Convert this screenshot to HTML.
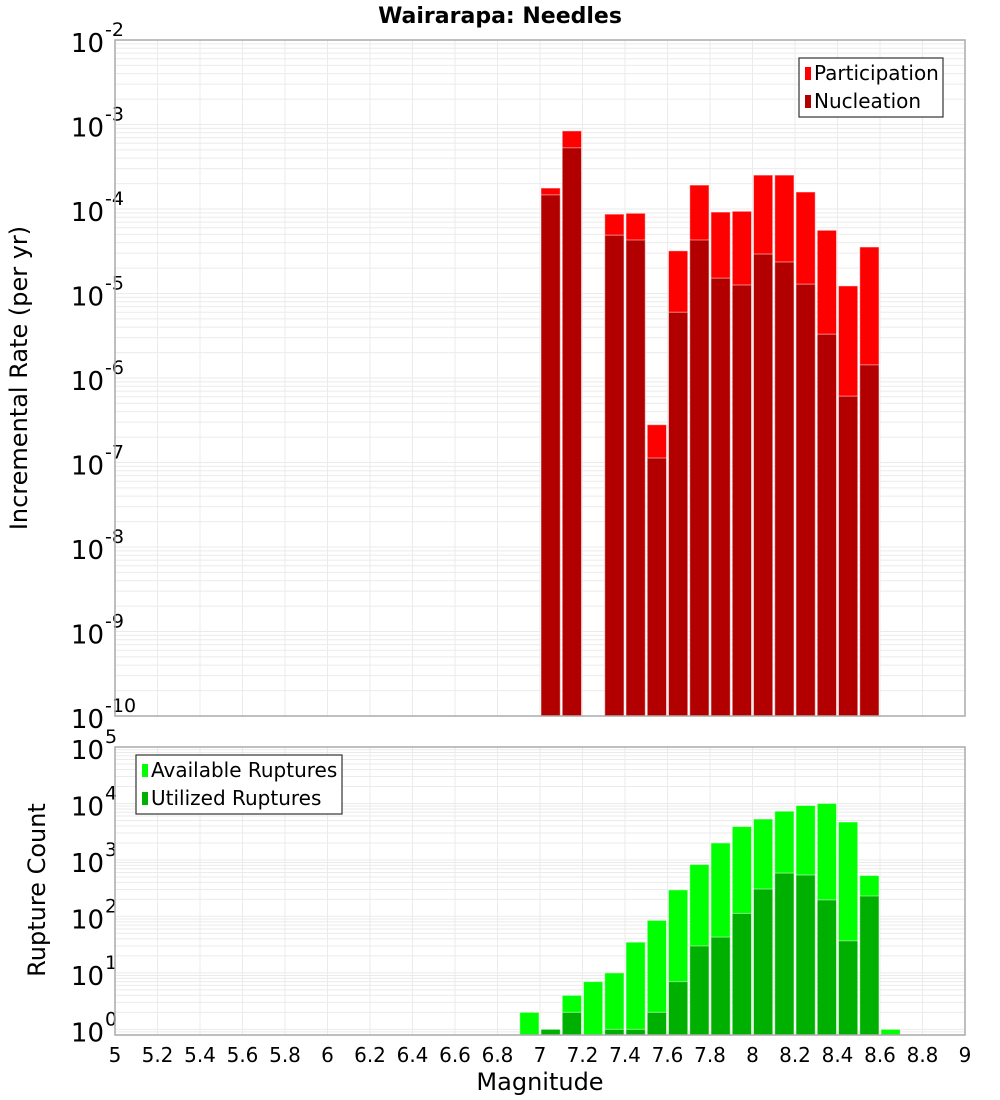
<!DOCTYPE html>
<html><head><meta charset="utf-8"><style>
html,body{margin:0;padding:0;background:#fff}
svg{display:block;font-family:"DejaVu Sans","Liberation Sans",sans-serif}
</style></head><body>
<svg id="c" width="1000" height="1100" viewBox="0 0 1000 1100">
<text x="500" y="23" text-anchor="middle" font-size="22" font-weight="bold">Wairarapa: Needles</text>
<text transform="translate(27,378) rotate(-90)" text-anchor="middle" font-size="24">Incremental Rate (per yr)</text>
<text transform="translate(45,890) rotate(-90)" text-anchor="middle" font-size="24">Rupture Count</text>
<text x="540" y="1090" text-anchor="middle" font-size="24">Magnitude</text>
<g id="top"></g><g id="bot"></g><g id="xt"></g>
</svg>
<script>
const mags=[7.0,7.1,7.3,7.4,7.5,7.6,7.7,7.8,7.9,8.0,8.1,8.2,8.3,8.4,8.5];
const participation=[1.77e-4,8.4e-4,8.7e-5,8.9e-5,2.8e-7,3.2e-5,1.92e-4,9.2e-5,9.4e-5,2.52e-4,2.52e-4,1.59e-4,5.6e-5,1.23e-5,3.55e-5];
const nucleation=[1.47e-4,5.3e-4,4.9e-5,4.3e-5,1.13e-7,6.0e-6,4.3e-5,1.52e-5,1.26e-5,2.93e-5,2.36e-5,1.29e-5,3.3e-6,6.1e-7,1.43e-6];
const countMags=[6.9,7.0,7.1,7.2,7.3,7.4,7.5,7.6,7.7,7.8,7.9,8.0,8.1,8.2,8.3,8.4,8.5,8.6];
const available=[2,1,4,7,10,35,85,295,830,2000,3900,5300,7300,9200,10000,4700,530,1];
const utilized=[0,1,2,0,1,1,2,7,30,43,113,305,585,540,196,37,230,0];
const xTicks=["5","5.2","5.4","5.6","5.8","6","6.2","6.4","6.6","6.8","7","7.2","7.4","7.6","7.8","8","8.2","8.4","8.6","8.8","9"];
const NS="http://www.w3.org/2000/svg";
const X0=115,X1=965,xMin=5,xMax=9;
const xs=m=>X0+(m-xMin)/(xMax-xMin)*(X1-X0);
function el(p,t,a){const e=document.createElementNS(NS,t);for(const k in a)e.setAttribute(k,a[k]);p.appendChild(e);return e;}
function panel(g,top,bot,lmin,lmax,name){
  const ys=v=>bot-(Math.log10(v)-lmin)/(lmax-lmin)*(bot-top);
  for(let d=Math.floor(lmin);d<lmax;d++){for(let k=1;k<10;k++){const v=k*Math.pow(10,d);const lv=Math.log10(v);if(lv<lmin||lv>lmax)continue;
    const l=el(g,'line',{x1:X0,x2:X1,y1:ys(v),y2:ys(v),stroke:'#ebebeb','stroke-width':1});
    
    }}
  for(let i=0;i<xTicks.length;i++){const x=xs(parseFloat(xTicks[i]));const l=el(g,'line',{x1:x,x2:x,y1:top,y2:bot,stroke:'#ebebeb','stroke-width':1});
    
    }
  for(let d=Math.ceil(lmin);d<=lmax;d++){const y=ys(Math.pow(10,d));
    const t=el(g,'text',{x:104,y:y+12,'text-anchor':'end','font-size':26});t.textContent='10';
    
    
    const s=el(g,'text',{x:105,y:y-4,'font-size':19});s.textContent=String(d);
    
    }
  return ys;
}
const gt=document.getElementById('top'),gb=document.getElementById('bot');
const yt=panel(gt,40,716,-10,-2,'top');
function bar(g,m,v,ys,base,fill,name){const x=xs(m)+1,w=xs(m+0.1)-xs(m)-2;const y=ys(v);
  const r=el(g,'rect',{x:x,y:y,width:w,height:base-y,fill:fill,stroke:'rgba(255,255,255,0.5)','stroke-width':1});
  
  }
for(let i=0;i<mags.length;i++){bar(gt,mags[i],participation[i],yt,716,'#ff0000','bar-participation');bar(gt,mags[i],nucleation[i],yt,716,'#b20000','bar-nucleation');}
el(gt,'rect',{x:X0,y:40,width:X1-X0,height:676,fill:'none',stroke:'#aaa','stroke-width':1.5});
const yb=panel(gb,747,1035,-0.1,5,'bottom');
for(let i=0;i<countMags.length;i++){if(available[i]>0)bar(gb,countMags[i],available[i],yb,1035,'#00ff00','bar-available');if(utilized[i]>0)bar(gb,countMags[i],utilized[i],yb,1035,'#00b000','bar-utilized');}
el(gb,'rect',{x:X0,y:747,width:X1-X0,height:288,fill:'none',stroke:'#aaa','stroke-width':1.5});
const gx=document.getElementById('xt');
for(let i=0;i<xTicks.length;i++){const t=el(gx,'text',{x:xs(parseFloat(xTicks[i])),y:1062,'text-anchor':'middle','font-size':20});t.textContent=xTicks[i];
  
  }
function legend(x,y,w,items,name){const g=el(document.getElementById('c'),'g',{});
  
  
  el(g,'rect',{x:x,y:y,width:w,height:59,fill:'#fff',stroke:'#333','stroke-width':1.2});
  items.forEach((it,i)=>{const cy=y+15+i*28;el(g,'rect',{x:x+6,y:cy-6,width:6,height:13,fill:it[1]});
    const t=el(g,'text',{x:x+15,y:cy+7,'font-size':20});t.textContent=it[0];
    
    });}
legend(799,58,144,[['Participation','#ff0000'],['Nucleation','#b20000']],'legend-top');
legend(136,755,206,[['Available Ruptures','#00ff00'],['Utilized Ruptures','#00b000']],'legend-bottom');
</script>
</body></html>
